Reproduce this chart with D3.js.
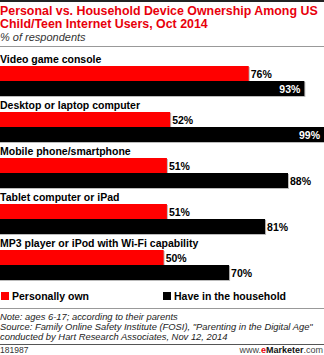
<!DOCTYPE html>
<html><head><meta charset="utf-8">
<script src="https://cdn.jsdelivr.net/npm/d3@7"></script>
<style>body{margin:0;background:#fff}svg{display:block}text{font-family:"Liberation Sans",Arial,sans-serif}</style>
</head><body><svg id="c" width="324" height="355"></svg>
<script>
const categories = ["Video game console","Desktop or laptop computer","Mobile phone/smartphone","Tablet computer or iPad","MP3 player or iPod with Wi-Fi capability"];
const personallyOwn = [76,52,51,51,50];
const haveInHousehold = [93,99,88,81,70];
const seriesNames = ["Personally own","Have in the household"];
const seriesColors = ["#ff0000","#000000"];
const titleLines = ["Personal vs. Household Device Ownership Among US","Child/Teen Internet Users, Oct 2014"];
const subtitle = "% of respondents";
const notes = ["Note: ages 6-17; according to their parents","Source: Family Online Safety Institute (FOSI), \"Parenting in the Digital Age\"","conducted by Hart Research Associates, Nov 12, 2014"];
const chartId = "181987";

const svg = d3.select("#c");
const W = 324;
svg.append("rect").attr("x",0).attr("y",0).attr("width",W).attr("height",2).attr("fill","#222");
svg.selectAll("text.title").data(titleLines).enter().append("text").attr("class","title")
  .attr("x",0).attr("y",(d,i)=>15+i*13).attr("fill","#e8000b").attr("font-weight","bold").attr("font-size","12.4px").text(d=>d);
svg.append("text").attr("x",0).attr("y",40.5).attr("font-style","italic").attr("font-size","11px").attr("fill","#333").text(subtitle);
svg.append("rect").attr("x",0).attr("y",46).attr("width",W).attr("height",1).attr("fill","#999");

const x = d3.scaleLinear().domain([0,99]).range([0,W]);
const y = d3.scaleBand().domain(categories).range([51,281]).paddingInner(0).paddingOuter(0);
const g = svg.append("g");
const groups = g.selectAll("g.grp").data(categories).enter().append("g").attr("class","grp")
  .attr("transform",d=>`translate(0,${y(d)})`);
groups.append("text").attr("x",0).attr("y",12).attr("font-weight","bold").attr("font-size","10.5px").attr("fill","#000").text(d=>d);

const barH = 15;
[personallyOwn, haveInHousehold].forEach((vals, si) => {
  const top = 15 + si*barH;
  groups.append("rect").attr("x",0).attr("y",top+1).attr("width",(d,i)=>x(vals[i])+1).attr("height",barH).attr("fill","#bbb");
  groups.append("rect").attr("x",0).attr("y",top).attr("width",(d,i)=>x(vals[i])).attr("height",barH).attr("fill",seriesColors[si]);
  groups.append("text").attr("font-weight","bold").attr("font-size","10.5px").attr("y",top+11.5)
    .each(function(d,i){
      const v = vals[i], xe = x(v);
      const inside = xe + 28 > W;
      d3.select(this).attr("x", inside ? xe-4 : xe+2).attr("text-anchor", inside ? "end" : "start")
        .attr("fill", inside ? "#fff" : "#000").text(v+"%");
    });
});

// legend
const legX = [1,163];
seriesNames.forEach((n,i)=>{
  svg.append("rect").attr("x",legX[i]).attr("y",292).attr("width",8).attr("height",8).attr("fill",seriesColors[i]);
  svg.append("text").attr("x",legX[i]+11).attr("y",300).attr("font-weight","bold").attr("font-size","10.5px").attr("fill","#000").text(n);
});
svg.append("rect").attr("x",0).attr("y",308).attr("width",W).attr("height",1).attr("fill","#999");
svg.selectAll("text.note").data(notes).enter().append("text").attr("class","note")
  .attr("x",0).attr("y",(d,i)=>320+i*10).attr("font-style","italic").attr("font-size","9.4px").attr("fill","#222").text(d=>d);
svg.append("rect").attr("x",0).attr("y",344).attr("width",W).attr("height",1).attr("fill","#555");
svg.append("text").attr("x",0).attr("y",353).attr("font-size","8.5px").attr("fill","#333").text(chartId);
const wm = svg.append("text").attr("x",W-1).attr("y",353).attr("font-size","9px").attr("text-anchor","end").attr("fill","#444");
wm.append("tspan").text("www.");
wm.append("tspan").attr("fill","#e8000b").attr("font-weight","bold").text("e");
wm.append("tspan").attr("fill","#111").attr("font-weight","bold").text("Marketer");
wm.append("tspan").text(".com");
</script></body></html>
